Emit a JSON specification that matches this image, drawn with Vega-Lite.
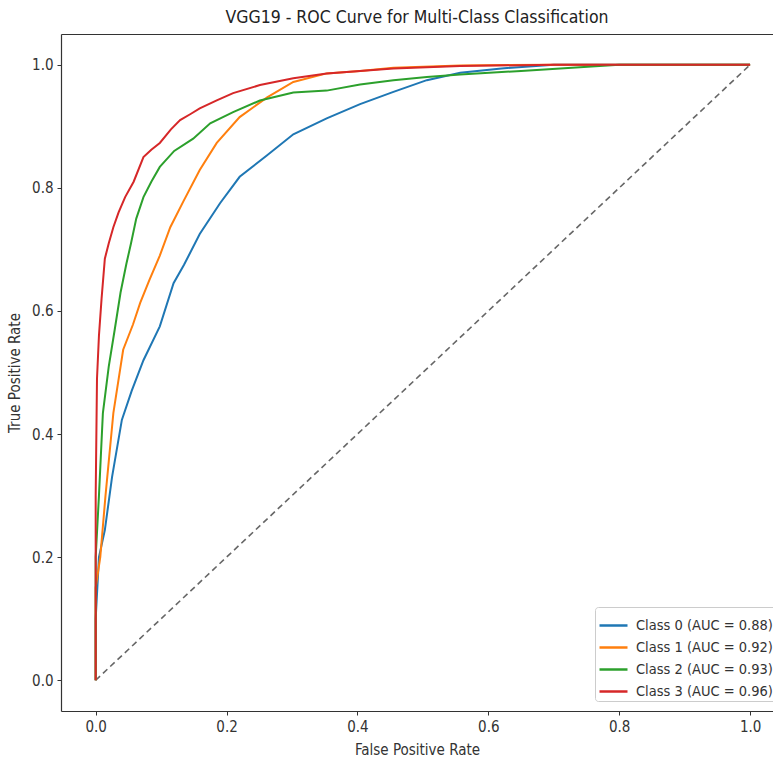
{
  "$schema": "https://vega.github.io/schema/vega-lite/v6.json",
  "width": 712,
  "height": 677,
  "autosize": {"type": "none"},
  "padding": {"left": 61, "top": 34, "right": 0, "bottom": 50},
  "background": "white",
  "title": {
    "text": "VGG19 - ROC Curve for Multi-Class Classification",
    "font": "DejaVu Sans Condensed",
    "fontSize": 17.5,
    "fontWeight": "normal",
    "color": "#222222",
    "offset": 8
  },
  "config": {
    "view": {"stroke": null},
    "font": "DejaVu Sans Condensed",
    "axis": {
      "grid": false,
      "domainColor": "#333333",
      "domainWidth": 1.2,
      "tickColor": "#333333",
      "tickSize": 4,
      "labelFont": "DejaVu Sans Condensed",
      "labelFontSize": 15,
      "labelColor": "#333333",
      "labelPadding": 4,
      "titleFont": "DejaVu Sans Condensed",
      "titleFontSize": 15,
      "titleFontWeight": "normal",
      "titleColor": "#333333"
    }
  },
  "datasets": {
    "roc": [
      {"label": "Class 0 (AUC = 0.88)", "i": 0, "fpr": 0.0, "tpr": 0.0},
      {"label": "Class 0 (AUC = 0.88)", "i": 1, "fpr": 0.0, "tpr": 0.1},
      {"label": "Class 0 (AUC = 0.88)", "i": 2, "fpr": 0.005, "tpr": 0.2},
      {"label": "Class 0 (AUC = 0.88)", "i": 3, "fpr": 0.014, "tpr": 0.244},
      {"label": "Class 0 (AUC = 0.88)", "i": 4, "fpr": 0.025, "tpr": 0.33},
      {"label": "Class 0 (AUC = 0.88)", "i": 5, "fpr": 0.04, "tpr": 0.423},
      {"label": "Class 0 (AUC = 0.88)", "i": 6, "fpr": 0.055, "tpr": 0.47},
      {"label": "Class 0 (AUC = 0.88)", "i": 7, "fpr": 0.073, "tpr": 0.52},
      {"label": "Class 0 (AUC = 0.88)", "i": 8, "fpr": 0.098, "tpr": 0.575},
      {"label": "Class 0 (AUC = 0.88)", "i": 9, "fpr": 0.119, "tpr": 0.645},
      {"label": "Class 0 (AUC = 0.88)", "i": 10, "fpr": 0.135, "tpr": 0.675},
      {"label": "Class 0 (AUC = 0.88)", "i": 11, "fpr": 0.159, "tpr": 0.725},
      {"label": "Class 0 (AUC = 0.88)", "i": 12, "fpr": 0.19, "tpr": 0.775},
      {"label": "Class 0 (AUC = 0.88)", "i": 13, "fpr": 0.22, "tpr": 0.818},
      {"label": "Class 0 (AUC = 0.88)", "i": 14, "fpr": 0.262, "tpr": 0.853},
      {"label": "Class 0 (AUC = 0.88)", "i": 15, "fpr": 0.302, "tpr": 0.887},
      {"label": "Class 0 (AUC = 0.88)", "i": 16, "fpr": 0.353, "tpr": 0.913},
      {"label": "Class 0 (AUC = 0.88)", "i": 17, "fpr": 0.404, "tpr": 0.936},
      {"label": "Class 0 (AUC = 0.88)", "i": 18, "fpr": 0.455, "tpr": 0.956},
      {"label": "Class 0 (AUC = 0.88)", "i": 19, "fpr": 0.506, "tpr": 0.975},
      {"label": "Class 0 (AUC = 0.88)", "i": 20, "fpr": 0.557, "tpr": 0.987},
      {"label": "Class 0 (AUC = 0.88)", "i": 21, "fpr": 0.62, "tpr": 0.994},
      {"label": "Class 0 (AUC = 0.88)", "i": 22, "fpr": 0.7, "tpr": 1.0},
      {"label": "Class 0 (AUC = 0.88)", "i": 23, "fpr": 1.0, "tpr": 1.0},

      {"label": "Class 1 (AUC = 0.92)", "i": 0, "fpr": 0.0, "tpr": 0.0},
      {"label": "Class 1 (AUC = 0.92)", "i": 1, "fpr": 0.0, "tpr": 0.15},
      {"label": "Class 1 (AUC = 0.92)", "i": 2, "fpr": 0.007, "tpr": 0.2},
      {"label": "Class 1 (AUC = 0.92)", "i": 3, "fpr": 0.015, "tpr": 0.3},
      {"label": "Class 1 (AUC = 0.92)", "i": 4, "fpr": 0.027, "tpr": 0.434},
      {"label": "Class 1 (AUC = 0.92)", "i": 5, "fpr": 0.042, "tpr": 0.537},
      {"label": "Class 1 (AUC = 0.92)", "i": 6, "fpr": 0.057, "tpr": 0.578},
      {"label": "Class 1 (AUC = 0.92)", "i": 7, "fpr": 0.068, "tpr": 0.613},
      {"label": "Class 1 (AUC = 0.92)", "i": 8, "fpr": 0.082, "tpr": 0.65},
      {"label": "Class 1 (AUC = 0.92)", "i": 9, "fpr": 0.098, "tpr": 0.69},
      {"label": "Class 1 (AUC = 0.92)", "i": 10, "fpr": 0.114, "tpr": 0.736},
      {"label": "Class 1 (AUC = 0.92)", "i": 11, "fpr": 0.134, "tpr": 0.778},
      {"label": "Class 1 (AUC = 0.92)", "i": 12, "fpr": 0.159, "tpr": 0.829},
      {"label": "Class 1 (AUC = 0.92)", "i": 13, "fpr": 0.185, "tpr": 0.873},
      {"label": "Class 1 (AUC = 0.92)", "i": 14, "fpr": 0.22, "tpr": 0.915},
      {"label": "Class 1 (AUC = 0.92)", "i": 15, "fpr": 0.262, "tpr": 0.947},
      {"label": "Class 1 (AUC = 0.92)", "i": 16, "fpr": 0.302, "tpr": 0.972},
      {"label": "Class 1 (AUC = 0.92)", "i": 17, "fpr": 0.353, "tpr": 0.986},
      {"label": "Class 1 (AUC = 0.92)", "i": 18, "fpr": 0.404, "tpr": 0.99},
      {"label": "Class 1 (AUC = 0.92)", "i": 19, "fpr": 0.455, "tpr": 0.995},
      {"label": "Class 1 (AUC = 0.92)", "i": 20, "fpr": 0.557, "tpr": 0.999},
      {"label": "Class 1 (AUC = 0.92)", "i": 21, "fpr": 0.7, "tpr": 1.0},
      {"label": "Class 1 (AUC = 0.92)", "i": 22, "fpr": 1.0, "tpr": 1.0},

      {"label": "Class 2 (AUC = 0.93)", "i": 0, "fpr": 0.0, "tpr": 0.0},
      {"label": "Class 2 (AUC = 0.93)", "i": 1, "fpr": 0.0, "tpr": 0.2},
      {"label": "Class 2 (AUC = 0.93)", "i": 2, "fpr": 0.005, "tpr": 0.3},
      {"label": "Class 2 (AUC = 0.93)", "i": 3, "fpr": 0.011, "tpr": 0.434},
      {"label": "Class 2 (AUC = 0.93)", "i": 4, "fpr": 0.02, "tpr": 0.51},
      {"label": "Class 2 (AUC = 0.93)", "i": 5, "fpr": 0.029, "tpr": 0.569},
      {"label": "Class 2 (AUC = 0.93)", "i": 6, "fpr": 0.038, "tpr": 0.63},
      {"label": "Class 2 (AUC = 0.93)", "i": 7, "fpr": 0.047, "tpr": 0.677},
      {"label": "Class 2 (AUC = 0.93)", "i": 8, "fpr": 0.054, "tpr": 0.71},
      {"label": "Class 2 (AUC = 0.93)", "i": 9, "fpr": 0.062, "tpr": 0.75},
      {"label": "Class 2 (AUC = 0.93)", "i": 10, "fpr": 0.073, "tpr": 0.785},
      {"label": "Class 2 (AUC = 0.93)", "i": 11, "fpr": 0.085, "tpr": 0.81},
      {"label": "Class 2 (AUC = 0.93)", "i": 12, "fpr": 0.098, "tpr": 0.834},
      {"label": "Class 2 (AUC = 0.93)", "i": 13, "fpr": 0.12, "tpr": 0.86},
      {"label": "Class 2 (AUC = 0.93)", "i": 14, "fpr": 0.149, "tpr": 0.88},
      {"label": "Class 2 (AUC = 0.93)", "i": 15, "fpr": 0.175, "tpr": 0.905},
      {"label": "Class 2 (AUC = 0.93)", "i": 16, "fpr": 0.21, "tpr": 0.923},
      {"label": "Class 2 (AUC = 0.93)", "i": 17, "fpr": 0.251, "tpr": 0.942},
      {"label": "Class 2 (AUC = 0.93)", "i": 18, "fpr": 0.302, "tpr": 0.955},
      {"label": "Class 2 (AUC = 0.93)", "i": 19, "fpr": 0.353, "tpr": 0.958},
      {"label": "Class 2 (AUC = 0.93)", "i": 20, "fpr": 0.404, "tpr": 0.968},
      {"label": "Class 2 (AUC = 0.93)", "i": 21, "fpr": 0.455, "tpr": 0.975},
      {"label": "Class 2 (AUC = 0.93)", "i": 22, "fpr": 0.506, "tpr": 0.98},
      {"label": "Class 2 (AUC = 0.93)", "i": 23, "fpr": 0.557, "tpr": 0.984},
      {"label": "Class 2 (AUC = 0.93)", "i": 24, "fpr": 0.65, "tpr": 0.99},
      {"label": "Class 2 (AUC = 0.93)", "i": 25, "fpr": 0.8, "tpr": 1.0},
      {"label": "Class 2 (AUC = 0.93)", "i": 26, "fpr": 1.0, "tpr": 1.0},

      {"label": "Class 3 (AUC = 0.96)", "i": 0, "fpr": 0.0, "tpr": 0.0},
      {"label": "Class 3 (AUC = 0.96)", "i": 1, "fpr": 0.0, "tpr": 0.3},
      {"label": "Class 3 (AUC = 0.96)", "i": 2, "fpr": 0.002, "tpr": 0.49},
      {"label": "Class 3 (AUC = 0.96)", "i": 3, "fpr": 0.005, "tpr": 0.56},
      {"label": "Class 3 (AUC = 0.96)", "i": 4, "fpr": 0.009, "tpr": 0.62},
      {"label": "Class 3 (AUC = 0.96)", "i": 5, "fpr": 0.014, "tpr": 0.685},
      {"label": "Class 3 (AUC = 0.96)", "i": 6, "fpr": 0.02, "tpr": 0.71},
      {"label": "Class 3 (AUC = 0.96)", "i": 7, "fpr": 0.027, "tpr": 0.736},
      {"label": "Class 3 (AUC = 0.96)", "i": 8, "fpr": 0.035, "tpr": 0.76},
      {"label": "Class 3 (AUC = 0.96)", "i": 9, "fpr": 0.045, "tpr": 0.785},
      {"label": "Class 3 (AUC = 0.96)", "i": 10, "fpr": 0.058, "tpr": 0.81},
      {"label": "Class 3 (AUC = 0.96)", "i": 11, "fpr": 0.073, "tpr": 0.85},
      {"label": "Class 3 (AUC = 0.96)", "i": 12, "fpr": 0.085, "tpr": 0.862},
      {"label": "Class 3 (AUC = 0.96)", "i": 13, "fpr": 0.098, "tpr": 0.873},
      {"label": "Class 3 (AUC = 0.96)", "i": 14, "fpr": 0.115, "tpr": 0.895},
      {"label": "Class 3 (AUC = 0.96)", "i": 15, "fpr": 0.129, "tpr": 0.91},
      {"label": "Class 3 (AUC = 0.96)", "i": 16, "fpr": 0.145, "tpr": 0.92},
      {"label": "Class 3 (AUC = 0.96)", "i": 17, "fpr": 0.159, "tpr": 0.929},
      {"label": "Class 3 (AUC = 0.96)", "i": 18, "fpr": 0.185, "tpr": 0.942},
      {"label": "Class 3 (AUC = 0.96)", "i": 19, "fpr": 0.21, "tpr": 0.954},
      {"label": "Class 3 (AUC = 0.96)", "i": 20, "fpr": 0.251, "tpr": 0.967},
      {"label": "Class 3 (AUC = 0.96)", "i": 21, "fpr": 0.302, "tpr": 0.978},
      {"label": "Class 3 (AUC = 0.96)", "i": 22, "fpr": 0.353, "tpr": 0.986},
      {"label": "Class 3 (AUC = 0.96)", "i": 23, "fpr": 0.404, "tpr": 0.99},
      {"label": "Class 3 (AUC = 0.96)", "i": 24, "fpr": 0.455, "tpr": 0.994},
      {"label": "Class 3 (AUC = 0.96)", "i": 25, "fpr": 0.557, "tpr": 0.998},
      {"label": "Class 3 (AUC = 0.96)", "i": 26, "fpr": 0.7, "tpr": 1.0},
      {"label": "Class 3 (AUC = 0.96)", "i": 27, "fpr": 1.0, "tpr": 1.0}
    ],
    "diag": [
      {"fpr": 0, "tpr": 0},
      {"fpr": 1, "tpr": 1}
    ]
  },
  "layer": [
    {
      "data": {"name": "diag"},
      "mark": {"type": "line", "color": "#666666", "strokeWidth": 1.6, "strokeDash": [6, 4]},
      "encoding": {
        "x": {
          "field": "fpr",
          "type": "quantitative",
          "scale": {"domain": [-0.053, 1.035], "nice": false, "zero": false},
          "axis": {"orient": "bottom", "values": [0, 0.2, 0.4, 0.6, 0.8, 1.0], "format": ".1f", "title": "False Positive Rate", "titlePadding": 8}
        },
        "y": {
          "field": "tpr",
          "type": "quantitative",
          "scale": {"domain": [-0.05, 1.05], "nice": false, "zero": false},
          "axis": {"values": [0, 0.2, 0.4, 0.6, 0.8, 1.0], "format": ".1f", "title": "True Positive Rate", "titlePadding": 9}
        }
      }
    },
    {
      "data": {"name": "roc"},
      "mark": {"type": "line", "strokeWidth": 2, "interpolate": "linear"},
      "encoding": {
        "x": {"field": "fpr", "type": "quantitative", "axis": null},
        "y": {"field": "tpr", "type": "quantitative"},
        "color": {
          "field": "label",
          "type": "nominal",
          "scale": {
            "domain": ["Class 0 (AUC = 0.88)", "Class 1 (AUC = 0.92)", "Class 2 (AUC = 0.93)", "Class 3 (AUC = 0.96)"],
            "range": ["#1f77b4", "#ff7f0e", "#2ca02c", "#d62728"]
          },
          "legend": {
            "title": null,
            "orient": "none",
            "legendX": 534,
            "legendY": 573,
            "symbolType": "stroke",
            "symbolSize": 784,
            "symbolStrokeWidth": 2.5,
            "labelFont": "DejaVu Sans Condensed",
            "labelFontSize": 14.5,
            "labelColor": "#333333",
            "labelOffset": 7,
            "rowPadding": -2,
            "padding": 3,
            "fillColor": "white",
            "strokeColor": "#cccccc",
            "cornerRadius": 3
          }
        },
        "order": {"field": "i", "type": "quantitative"}
      }
    },
    {
      "data": {"name": "diag"},
      "mark": {"type": "rule", "opacity": 0},
      "encoding": {
        "x": {"field": "fpr", "type": "quantitative", "axis": {"orient": "top", "labels": false, "ticks": false, "title": null, "domainColor": "#333333"}}
      }
    }
  ],
  "resolve": {"axis": {"x": "independent"}}
}
